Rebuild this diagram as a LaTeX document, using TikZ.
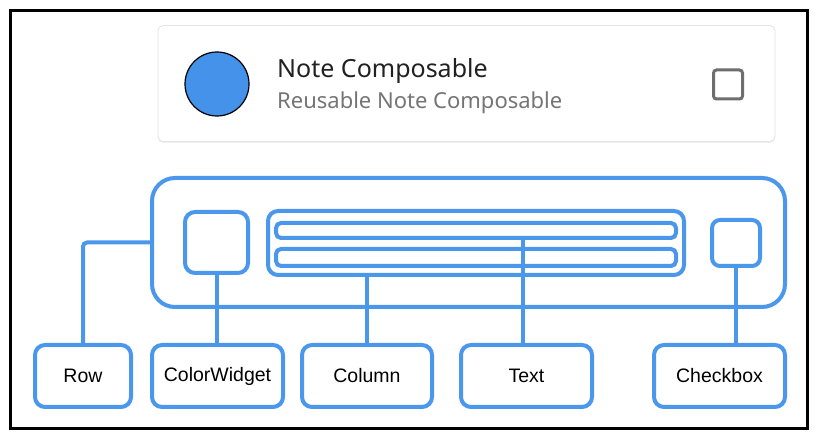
\documentclass[tikz,border=0pt]{standalone}
\usepackage{fontspec}
\setmainfont{Liberation Sans}
\newfontfamily\notefont{Noto Sans}
\usetikzlibrary{shadows}
\definecolor{bblue}{RGB}{74,151,236}
\definecolor{cblue}{RGB}{68,146,234}
\definecolor{ctitle}{RGB}{33,33,33}
\definecolor{csub}{RGB}{117,117,117}
\definecolor{cchk}{RGB}{110,110,110}
\definecolor{ccard}{RGB}{228,228,228}
\begin{document}
\begin{tikzpicture}[x=1pt,y=-1pt,
  bbox/.style={draw=bblue, line width=4pt, rounded corners=#1, inner sep=0pt},
  bbox/.default=10pt,
  lbl/.style={bbox, minimum height=62pt, font=\fontsize{19.5}{22}\selectfont, text=black},
  conn/.style={draw=bblue, line width=4pt}]
\useasboundingbox (0,0) rectangle (825,435);
\draw[black, line width=2.6pt] (10.5,10.5) rectangle (807.5,428.5);
% card
\node[draw=ccard, line width=0.8pt, fill=white, rounded corners=5pt, minimum width=617pt, minimum height=116pt,
  drop shadow={opacity=0.12, shadow xshift=0pt, shadow yshift=-1.5pt}] (card) at (466.5,83.5) {};
\node[circle, fill=cblue, draw=black, line width=1.2pt, minimum size=64pt, inner sep=0pt] (dot) at (217,84) {};
\node[anchor=base west, inner sep=0pt, text=ctitle, font=\notefont\fontsize{25}{28}\selectfont] (title) at (277,78) {Note Composable};
\node[anchor=base west, inner sep=0pt, text=csub, font=\notefont\fontsize{22}{25}\selectfont] (sub) at (277,108.5) {Reusable Note Composable};
\node[draw=cchk, line width=3pt, rounded corners=3pt, minimum size=29pt, inner sep=0pt] (cb) at (728,84.5) {};
% blue layout
\node[bbox=23pt, minimum width=633pt, minimum height=129pt] (big) at (468.5,242.5) {};
\node[bbox, minimum width=63pt, minimum height=61pt] (cw) at (216.5,242.5) {};
\node[bbox, minimum width=416pt, minimum height=64pt] (col) at (476,243) {};
\node[bbox=5pt, minimum width=400pt, minimum height=15pt] (bar1) at (476,230.5) {};
\node[bbox=5pt, minimum width=400pt, minimum height=17pt] (bar2) at (476,257.5) {};
\node[bbox=8pt, minimum width=48pt, minimum height=46pt] (ck) at (736,243) {};
% labels
\node[lbl, minimum width=96pt] (lrow) at (83,376) {Row};
\node[lbl, minimum width=131pt] (lcw) at (217.5,376) {ColorWidget};
\node[lbl, minimum width=130pt] (lcol) at (367,376) {Column};
\node[lbl, minimum width=131pt] (ltext) at (526.5,376) {Text};
\node[lbl, minimum width=131pt] (lck) at (719.5,376) {Checkbox};
% connectors
\coordinate (tx) at (523,0);
\draw[conn, rounded corners=4pt] (big.west) -| (lrow.north);
\draw[conn] (cw.south) -- (cw.south |- lcw.north);
\draw[conn] (col.south -| lcol.north) -- (lcol.north);
\draw[conn] (tx |- bar1.south) -- (tx |- ltext.north);
\draw[conn] (ck.south) -- (ck.south |- lck.north);
\end{tikzpicture}
\end{document}
